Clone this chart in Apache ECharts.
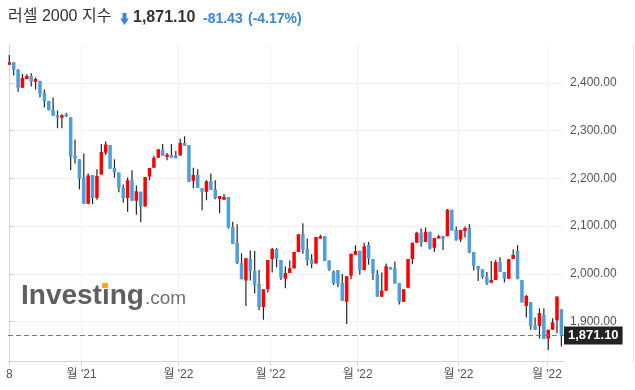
<!DOCTYPE html>
<html><head><meta charset="utf-8">
<script src="https://cdn.jsdelivr.net/npm/echarts@6/dist/echarts.min.js"></script>
<style>html,body{margin:0;padding:0;background:#fff}#c{width:635px;height:390px}</style>
</head><body><div id="c"></div>
<script>
// Russell 2000 daily candles (index 0 = first candle)
const opens = [2437.6,2443,2426.6,2389.5,2408,2414,2402,2403.5,2379,2362,2343,2332,2327,2334,2328,2248,2240,2202,2147,2207,2159,2208,2253.5,2270,2221.5,2212,2180,2159,2196,2153,2172,2141,2204,2222,2243,2261,2244.5,2249,2247,2248,2274,2270,2195,2207,2179,2172,2194,2177,2157,2155,2161,2098,2065,2023,1986,2031,2006,1979,1931,1968,2031,2052,2029,1990,2002,2012,2046,2083,2052,2030.5,2022,2074,2079,2028,2005,2008,1981,1942,1996,2040,2048.5,2008,2061,2031,2000,1952,1965,2014,2012,1981,1942,1971,2031,2065,2086,2067,2088,2055,2074,2079,2079,2134,2092,2072,2090,2096,2046,2016.5,2010,1993.5,1981.6,1987,2025,2004,1990,2031,2048,1987,1933,1941,1892,1891,1914,1865,1883,1903,1926];
const closes = [2443,2427,2389.5,2410,2414,2402,2408,2377,2362,2343,2331,2327,2332,2329,2245,2242,2199,2147,2206,2159,2205,2255,2271,2220,2212,2180,2159,2196,2153,2173,2141,2203,2221.5,2243,2261,2247,2250,2243,2242,2274,2268,2193,2207,2180,2172,2194,2176,2159,2163,2161,2097,2063,2023,1989,2033,2007,1977,1931,1968,2029,2052,2032,1992,2002,2012,2046,2083,2051,2029,2021,2077,2079,2027,2010,1980,1980,1944,1995,2042,2048,2008,2058,2032,2001,1952,1965,2016,2009,1980,1942,1968,2031,2065,2086,2065,2088,2053,2075,2079,2074,2134,2091,2070,2092,2096,2045,2017,2010,1993.5,1980,1987,2025,2004,1990,2030.5,2039.5,1990,1940,1954,1890,1883,1918,1864,1883,1899,1952.5,1871.1];
const lows = [2437,2415,2381,2389,2408,2392,2386,2369,2348,2342,2331,2305,2305,2329,2217,2231,2177,2147,2146,2146,2155,2208,2249,2220,2201,2171,2149,2130,2153,2124,2108,2141,2196,2222,2243,2247,2238,2243,2242,2248,2268,2193,2179,2180,2133,2154,2176,2156,2127,2155,2095,2063,2021,1989,1933,1986,1959,1924,1904,1961,2003,2014,1987,1970,2002,2011,2046,2042,2017,2012,2022,2074,2027,2006,1977,1972,1944,1895,1989,2040,1998,2008,2019,1987,1952,1952,1965,2009,1980,1936,1942,1971,2020,2065,2057,2067,2051,2046,2074,2050,2079,2091,2070,2067,2076,2043,2007,1985,1990,1977,1981.6,1987,2004,1982,1990,2031,1989,1940,1909,1883,1883,1865,1864,1841,1883,1876,1848];
const highs = [2458,2443,2429,2419,2418,2420,2411,2404,2386,2362,2369,2342,2334,2337,2328,2281,2240,2252,2210,2207,2219,2272,2277,2270,2240,2212,2187,2202,2217,2185,2172,2203,2221.5,2247,2261,2272,2253,2272,2257,2283,2288,2270,2222,2219,2179,2196,2210,2196,2163,2167,2161,2109,2104,2043,2033,2049,2048,2008,1968,2029,2054,2054,2029,2016,2028,2046,2083,2106,2074,2041,2077,2082,2079,2028,2007,2008,2000,1995,2042,2060,2048.5,2065,2067,2031,2008,2003,2022,2014,2026,1981,1968,2031,2065,2088,2095,2097,2088,2075,2082,2079,2136,2134,2099,2092,2099,2104,2046,2016.5,2010,2004,2027,2029,2035,2004,2030.5,2051,2060,1987,1956,1941,1909,1928,1928,1883,1907,1952.5,1926];

const xTickPositions = [0, 16.5, 38.6, 59.6, 79.5, 102.5, 122.7];
const xTickLabels = ['8', "월 '21", "월 '22", "월 '22", "월 '22", "월 '22", "월 '22"];
const yTickValues = [1900, 2000, 2100, 2200, 2300, 2400];
const lastPrice = 1871.10;

const candleData = opens.map((o, i) => [i, o, closes[i], lows[i], highs[i]]);

const fmt2 = v => v.toLocaleString('en-US', {minimumFractionDigits: 2, maximumFractionDigits: 2});

const chart = echarts.init(document.getElementById('c'), null, {renderer: 'canvas'});
chart.setOption({
  animation: false,
  backgroundColor: '#fff',
  grid: {left: 8, right: 71, top: 45, bottom: 28.3, containLabel: false, outerBoundsMode: 'none'},
  xAxis: {
    type: 'value', min: -0.3, max: 126.6,
    axisLine: {show: true, lineStyle: {color: '#d6d6d6'}},
    axisTick: {show: true, length: 4, lineStyle: {color: '#cfcfcf'}, customValues: xTickPositions},
    axisLabel: {
      customValues: xTickPositions, color: '#555', fontSize: 12, margin: 7,
      fontFamily: 'Liberation Sans, Arial, Noto Sans CJK KR, sans-serif',
      formatter: v => { const k = xTickPositions.findIndex(p => Math.abs(p - v) < 1e-6); return k >= 0 ? xTickLabels[k] : ''; }
    },
    splitLine: {show: true, lineStyle: {color: '#f3f3f3'}, customValues: xTickPositions}
  },
  yAxis: {
    type: 'value', position: 'right', min: 1816.3, max: 2479, scale: true,
    axisLine: {show: true, lineStyle: {color: '#d6d6d6'}},
    axisTick: {show: true, length: 4, lineStyle: {color: '#cfcfcf'}, customValues: yTickValues},
    axisLabel: {customValues: yTickValues, color: '#555', fontSize: 12, margin: 6,
      fontFamily: 'Liberation Sans, Arial, sans-serif', formatter: v => fmt2(v)},
    splitLine: {show: true, lineStyle: {color: '#f3f3f3'}, customValues: yTickValues}
  },
  series: [
    {
      type: 'custom',
      clip: true,
      data: candleData,
      encode: {x: 0, y: [1, 2, 3, 4]},
      renderItem: function (params, api) {
        const i = api.value(0), o = api.value(1), c = api.value(2), l = api.value(3), h = api.value(4);
        const top = api.coord([i, Math.max(o, c)]);
        const bot = api.coord([i, Math.min(o, c)]);
        const hi = api.coord([i, h]);
        const lo = api.coord([i, l]);
        const x = top[0];
        const w = 3.5;
        const up = c >= o;
        const bh = Math.max(bot[1] - top[1], 1.5);
        return {
          type: 'group',
          children: [
            {type: 'line', shape: {x1: x, y1: hi[1], x2: x, y2: lo[1]}, style: {stroke: '#262626', lineWidth: 1.2}},
            {type: 'rect', shape: {x: x - w / 2, y: top[1], width: w, height: bh}, style: {fill: up ? '#ff0000' : '#4a9fdc'}}
          ]
        };
      },
      z: 3
    },
    {
      type: 'line', data: [], z: 2,
      markLine: {
        silent: true, symbol: 'none',
        lineStyle: {color: '#7a7a7a', type: [5, 3], width: 1},
        label: {show: true, position: 'end', distance: 0, formatter: () => fmt2(lastPrice),
          backgroundColor: '#222', color: '#fff', fontWeight: 'bold', fontSize: 13,
          padding: [3, 4, 2, 4], fontFamily: 'Liberation Sans, Arial, sans-serif'},
        data: [{yAxis: lastPrice}]
      }
    }
  ],
  graphic: [
    {type: 'line', shape: {x1: 633.5, y1: 45, x2: 633.5, y2: 362}, style: {stroke: '#e3e3e3', lineWidth: 1}, silent: true},
    {type: 'text', left: 8, top: 9, style: {text: '러셀 2000 지수', fill: '#333', font: '16px "Liberation Sans", "Noto Sans CJK KR", sans-serif'}},
    {type: 'polygon', shape: {points: [[122.5, 13], [126.5, 13], [126.5, 18.5], [128.8, 18.5], [124.5, 25], [120.2, 18.5], [122.5, 18.5]]}, style: {fill: '#3a87d8'}},
    {type: 'text', left: 133, top: 10, style: {text: '1,871.10', fill: '#333', font: 'bold 16px "Liberation Sans", Arial, sans-serif'}},
    {type: 'text', left: 203, top: 12, style: {text: '-81.43', fill: '#3a87d8', font: 'bold 14px "Liberation Sans", Arial, sans-serif'}},
    {type: 'text', left: 248, top: 12, style: {text: '(-4.17%)', fill: '#3a87d8', font: 'bold 14px "Liberation Sans", Arial, sans-serif'}},
    {type: 'text', left: 21, top: 282, z: 1, style: {text: 'Investing', fill: '#5f5f5f', font: 'bold 28px "Liberation Sans", Arial, sans-serif'}},
    {type: 'text', left: 145, top: 289, z: 1, style: {text: '.com', fill: '#707070', font: '19px "Liberation Sans", Arial, sans-serif'}},
    {type: 'rect', shape: {x: 102, y: 283, width: 6, height: 5}, style: {fill: '#f5a623'}, z: 1}
  ]
});
</script></body></html>
